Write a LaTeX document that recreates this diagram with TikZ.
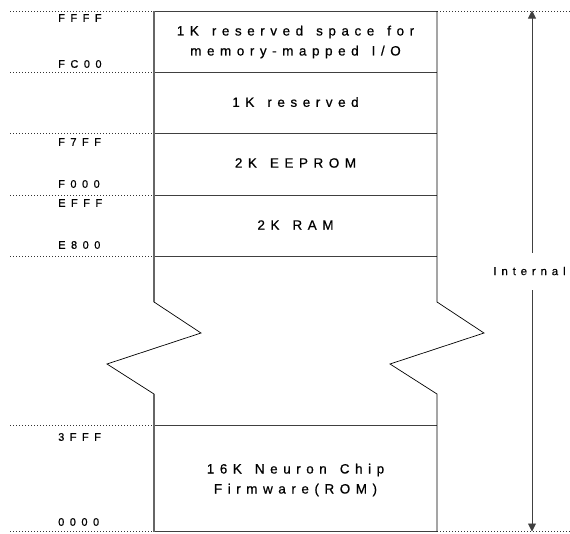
\documentclass[tikz,border=0pt]{standalone}
\usepackage{fontspec}
\setmainfont{Liberation Sans}
\newfontfamily\boxfont{Liberation Sans}[LetterSpace=41,FakeBold=0.6]
\newfontfamily\addrfont{Liberation Sans}[LetterSpace=50,FakeBold=0.6]
\newfontfamily\intfont{Liberation Sans}[LetterSpace=42,FakeBold=0.5]
\newcommand\boxtxt{\boxfont\fontsize{13.5}{20}\selectfont\spaceskip 13pt\relax}
\usetikzlibrary{arrows.meta}
\begin{document}
\begin{tikzpicture}[x=1pt,y=-1pt,
  txt/.style={font=\boxtxt, align=center, inner sep=0pt},
  addr/.style={font=\addrfont\fontsize{11}{13}\selectfont, anchor=west, inner sep=0pt},
  lbl/.style={font=\intfont\fontsize{11.5}{13}\selectfont, inner sep=0pt},
  dots/.style={line width=0.8pt, dash pattern=on 1pt off 2pt, black!80},
  boxline/.style={line width=0.9pt, black!75},
  zig/.style={line width=0.7pt, black},
  span/.style={line width=0.9pt, black!75, -{Triangle[width=8pt,length=8pt]}}]
\useasboundingbox (0,0) rectangle (570,533);
% dotted address lines
\foreach \yy in {11,72,133,195,256,425,531.5}{
  \draw[dots] (10,\yy) -- (154,\yy);
}
\draw[dots] (437,11) -- (570,11);
\draw[dots] (437,531.5) -- (570,531.5);
% box horizontal lines
\foreach \yy in {11,72,133,195,256,425,531.5}{
  \draw[boxline] (154,\yy) -- (437,\yy);
}
% left side with break
\draw[zig] (154,11) -- (154,302) -- (201,333) -- (107,364) -- (154,394) -- (154,531.5);
\draw[line width=1.1pt, black!60] (154,11) -- (154,302);
\draw[line width=1.1pt, black!60] (154,394) -- (154,531.5);
% right side with break
\draw[zig] (437,11) -- (437,302) -- (484,333) -- (390,364) -- (437,394) -- (437,531.5);
% texts in the map
\node[txt] (io) at (295.5,42) {1K reserved space for\\memory-mapped I/O};
\node[txt] (res) at (295.5,102) {1K reserved};
\node[txt] (eep) at (295.5,163) {2K EEPROM};
\node[txt] (ram) at (295.5,225) {2K RAM};
\node[txt] (rom) at (295.5,480) {16K Neuron Chip\\Firmware(ROM)};
% addresses
\node[addr] (a1) at (58,18) {FFFF};
\node[addr] (a2) at (58,64) {FC00};
\node[addr] (a3) at (58,142) {F7FF};
\node[addr] (a4) at (58,184) {F000};
\node[addr] (a5) at (58,203) {EFFF};
\node[addr] (a6) at (58,245) {E800};
\node[addr] (a7) at (58,437) {3FFF};
\node[addr] (a8) at (58,522) {0000};
% internal span
\node[lbl] (int) at (529.5,271) {Internal};
\coordinate (top) at (532,10.5);
\coordinate (bot) at (532,531.5);
\draw[span] (int.north -| top) ++(0,-14) -- (top);
\draw[span] (int.south -| bot) ++(0,15) -- (bot);
\end{tikzpicture}
\end{document}
